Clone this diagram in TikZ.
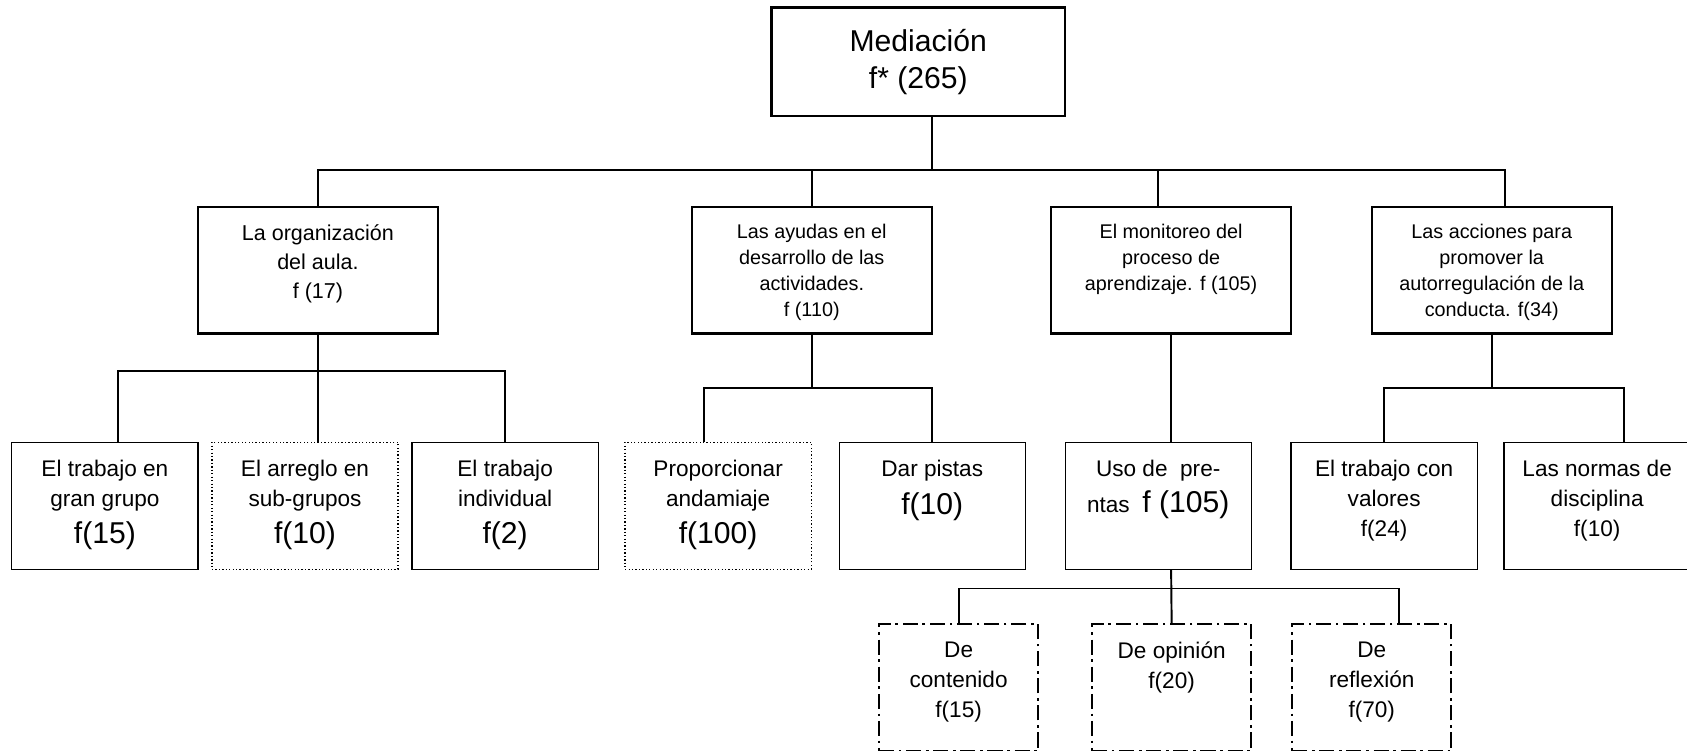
\documentclass[tikz,border=0pt]{standalone}
\usepackage{fontspec}
\setmainfont{Liberation Sans}
\newcommand{\bigf}{\fontsize{14}{17}\selectfont}

\begin{document}
\begin{tikzpicture}[x=0.5pt, y=-0.5pt,
    link/.style={line width=0.9pt},
    headbox/.style={draw, line width=1pt, minimum width=136.5pt, minimum height=50.5pt, align=center, font=\fontsize{14}{17.5}\selectfont},
    catbox/.style={draw, line width=1pt, minimum width=111.5pt, minimum height=59pt},
    subbox/.style={draw, line width=0.6pt, minimum width=86.5pt, minimum height=59pt},
    dotbox/.style={subbox, densely dotted},
    askbox/.style={draw, line width=0.9pt, dash pattern=on 7pt off 2.2pt on 1.2pt off 2.2pt, minimum width=74pt, minimum height=59pt},
    intext/.style={anchor=north, yshift=-8.5pt, align=center, inner sep=0pt},
    catlab/.style={intext, font=\fontsize{9.2}{12}\selectfont},
    sublab/.style={intext, font=\fontsize{10.5}{14}\selectfont}]
    \useasboundingbox (0,0) rectangle (1568,698);
    \node[headbox] (med) at (853.5,57.5) {Mediación\\f* (265)};

    \node[catbox, label={[catlab, font=\fontsize{10}{13.5}\selectfont]north:{La organización\\del aula.\\f (17)}}] (org) at (295.5,251) {};
    \node[catbox, label={[catlab]north:{Las ayudas en el\\desarrollo de las\\actividades.\\f (110)}}] (ayu) at (754.5,251) {};
    \node[catbox, label={[catlab]north:{El monitoreo del\\proceso de\\aprendizaje. f (105)}}] (mon) at (1088.5,251) {};
    \node[catbox, label={[catlab]north:{Las acciones para\\promover la\\autorregulación de la\\conducta. f(34)}}] (reg) at (1386.5,251) {};

    \node[subbox, label={[sublab]north:{El trabajo en\\gran grupo\\[3pt]{\bigf f(15)}}}] (gran) at (97.5,470) {};
    \node[dotbox, label={[sublab]north:{El arreglo en\\sub-grupos\\[3pt]{\bigf f(10)}}}] (sub) at (283.5,470) {};
    \node[subbox, label={[sublab]north:{El trabajo\\individual\\[3pt]{\bigf f(2)}}}] (indi) at (469.5,470) {};
    \node[dotbox, label={[sublab]north:{Proporcionar\\andamiaje\\[3pt]{\bigf f(100)}}}] (and) at (667.5,470) {};
    \node[subbox, label={[sublab]north:{Dar pistas\\[3.5pt]{\bigf f(10)}}}] (pis) at (866.5,470) {};
    \node[subbox, label={[sublab]north:{Uso de\ \ pre-\\[2.5pt]ntas\ \ {\bigf f (105)}}}] (pre) at (1076.5,470) {};
    \node[subbox, label={[sublab]north:{El trabajo con\\valores\\f(24)}}] (val) at (1286.5,470) {};
    \node[subbox, label={[sublab]north:{Las normas de\\disciplina\\f(10)}}] (nor) at (1484.5,470) {};

    \node[askbox, label={[sublab]north:{De\\contenido\\f(15)}}] (con) at (891,639) {};
    \node[askbox, label={[sublab]north:{De opinión\\f(20)}}] (opi) at (1089,639) {};
    \node[askbox, label={[sublab]north:{De\\reflexión\\f(70)}}] (ref) at (1275,639) {};

    \coordinate (busone) at (0,158);
    \coordinate (bustwo) at (0,345);
    \coordinate (busthree) at (0,361);
    \coordinate (busfour) at (0,547);

    \draw[link] ([xshift=6.5pt]med.south) -- ([xshift=6.5pt]med.south |- busone);
    \draw[link] (org.north) |- ([xshift=6pt]reg.north |- busone) -- ([xshift=6pt]reg.north);
    \draw[link] (ayu.north) -- (ayu.north |- busone);
    \draw[link] ([xshift=-6pt]mon.north) -- ([xshift=-6pt]mon.north |- busone);

    \draw[link] (org.south) -- ([xshift=6pt]sub.north);
    \draw[link] ([xshift=6pt]gran.north) |- (indi.north |- bustwo) -- (indi.north);
    \draw[link] (ayu.south) -- (ayu.south |- busthree);
    \draw[link] ([xshift=-6.5pt]and.north) |- (pis.north |- busthree) -- (pis.north);
    \draw[link] (mon.south) -- ([xshift=6pt]pre.north);
    \draw[link] (reg.south) -- (reg.south |- busthree);
    \draw[link] (val.north) |- ([xshift=12.5pt]nor.north |- busthree) -- ([xshift=12.5pt]nor.north);

    \draw[link] ([xshift=6pt]pre.south) -- (opi.north);
    \draw[link] (con.north) |- ([xshift=12.5pt]ref.north |- busfour) -- ([xshift=12.5pt]ref.north);
\end{tikzpicture}
\end{document}
